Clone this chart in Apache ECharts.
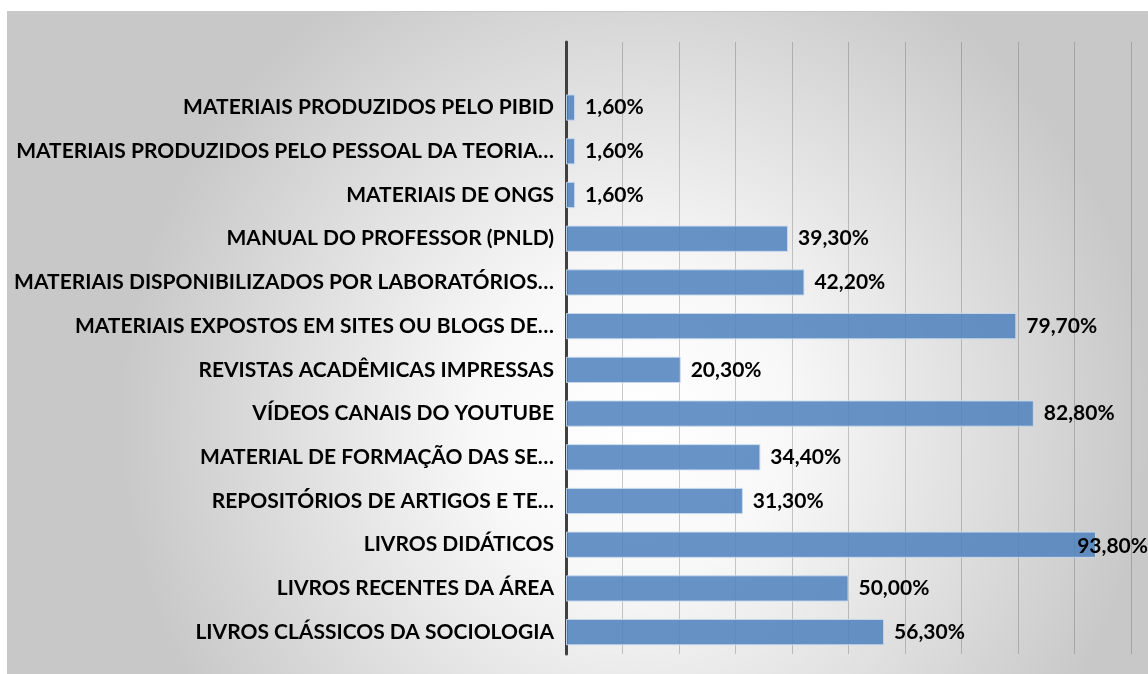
<!DOCTYPE html>
<html>
<head>
<meta charset="utf-8">
<script src="https://cdn.jsdelivr.net/npm/echarts@6/dist/echarts.min.js"></script>
<style>
  html, body { margin: 0; padding: 0; background: #ffffff; }
  #chart {
    position: absolute; left: 7px; top: 11px;
    width: 1141px; height: 663px;
    border-top: 1px solid #c8c8c8;
    box-sizing: border-box;
  }
</style>
</head>
<body>
<div id="chart"></div>
<script>
// Categories from top to bottom (the first slot is left blank above the bars)
const categories = [
  '',
  'MATERIAIS PRODUZIDOS PELO PIBID',
  'MATERIAIS PRODUZIDOS PELO PESSOAL DA TEORIA…',
  'MATERIAIS DE ONGS',
  'MANUAL DO PROFESSOR (PNLD)',
  'MATERIAIS DISPONIBILIZADOS POR LABORATÓRIOS…',
  'MATERIAIS EXPOSTOS EM SITES OU BLOGS DE…',
  'REVISTAS ACADÊMICAS IMPRESSAS',
  'VÍDEOS CANAIS DO YOUTUBE',
  'MATERIAL DE FORMAÇÃO DAS SE…',
  'REPOSITÓRIOS DE ARTIGOS E TE…',
  'LIVROS DIDÁTICOS',
  'LIVROS RECENTES DA ÁREA',
  'LIVROS CLÁSSICOS DA SOCIOLOGIA'
];

// Share of respondents (%) per material
const percentages = [
  null,
  1.6, 1.6, 1.6, 39.3, 42.2, 79.7, 20.3, 82.8, 34.4, 31.3, 93.8, 50.0, 56.3
];

const xMin = 0;
const xMax = 100;
const xStep = 10;

const fmtPct = v => v.toFixed(2).replace('.', ',') + '%';

const chart = echarts.init(document.getElementById('chart'), null, { renderer: 'canvas' });
const FONT = 'Lato, "Open Sans", sans-serif';

chart.setOption({
  animation: false,
  backgroundColor: {
    type: 'radial', x: 0.55, y: 0.62, r: 0.78,
    colorStops: [
      { offset: 0, color: '#ffffff' },
      { offset: 0.3, color: '#f8f8f8' },
      { offset: 1, color: '#c8c8c8' }
    ]
  },
  grid: { left: 559, right: 17, top: 30, bottom: 20, containLabel: false },
  xAxis: {
    type: 'value',
    min: xMin, max: xMax, interval: xStep,
    axisLine: { show: false },
    axisTick: { show: false },
    axisLabel: { show: false },
    splitLine: { show: true, lineStyle: { color: 'rgba(70,70,70,0.28)', width: 1 } }
  },
  yAxis: {
    type: 'category',
    inverse: true,
    data: categories,
    axisLine: { show: true, lineStyle: { color: '#404040', width: 3 } },
    axisTick: { show: false },
    splitLine: { show: false },
    axisLabel: {
      margin: 12,
      color: '#000000',
      fontFamily: FONT,
      fontWeight: 'bold',
      fontSize: 21
    }
  },
  series: [{
    type: 'bar',
    data: percentages,
    barCategoryGap: '40%',
    itemStyle: {
      color: 'rgba(79,129,189,0.86)',
      borderColor: 'rgba(200,218,240,0.9)',
      borderWidth: 1
    },
    label: {
      show: true,
      position: 'right',
      distance: 10,
      offset: [0, 2],
      color: '#000000',
      fontFamily: FONT,
      fontWeight: 'bold',
      fontSize: 21,
      formatter: p => p.value == null ? '' : fmtPct(p.value)
    },
    // keep a label that would run past the right edge inside the chart
    labelLayout: function (params) {
      const r = params.labelRect;
      const w = chart.getWidth();
      if (r.x + r.width > w) {
        return { x: w - r.width, y: r.y, align: 'left', verticalAlign: 'top' };
      }
      return {};
    }
  }]
});
</script>
</body>
</html>
